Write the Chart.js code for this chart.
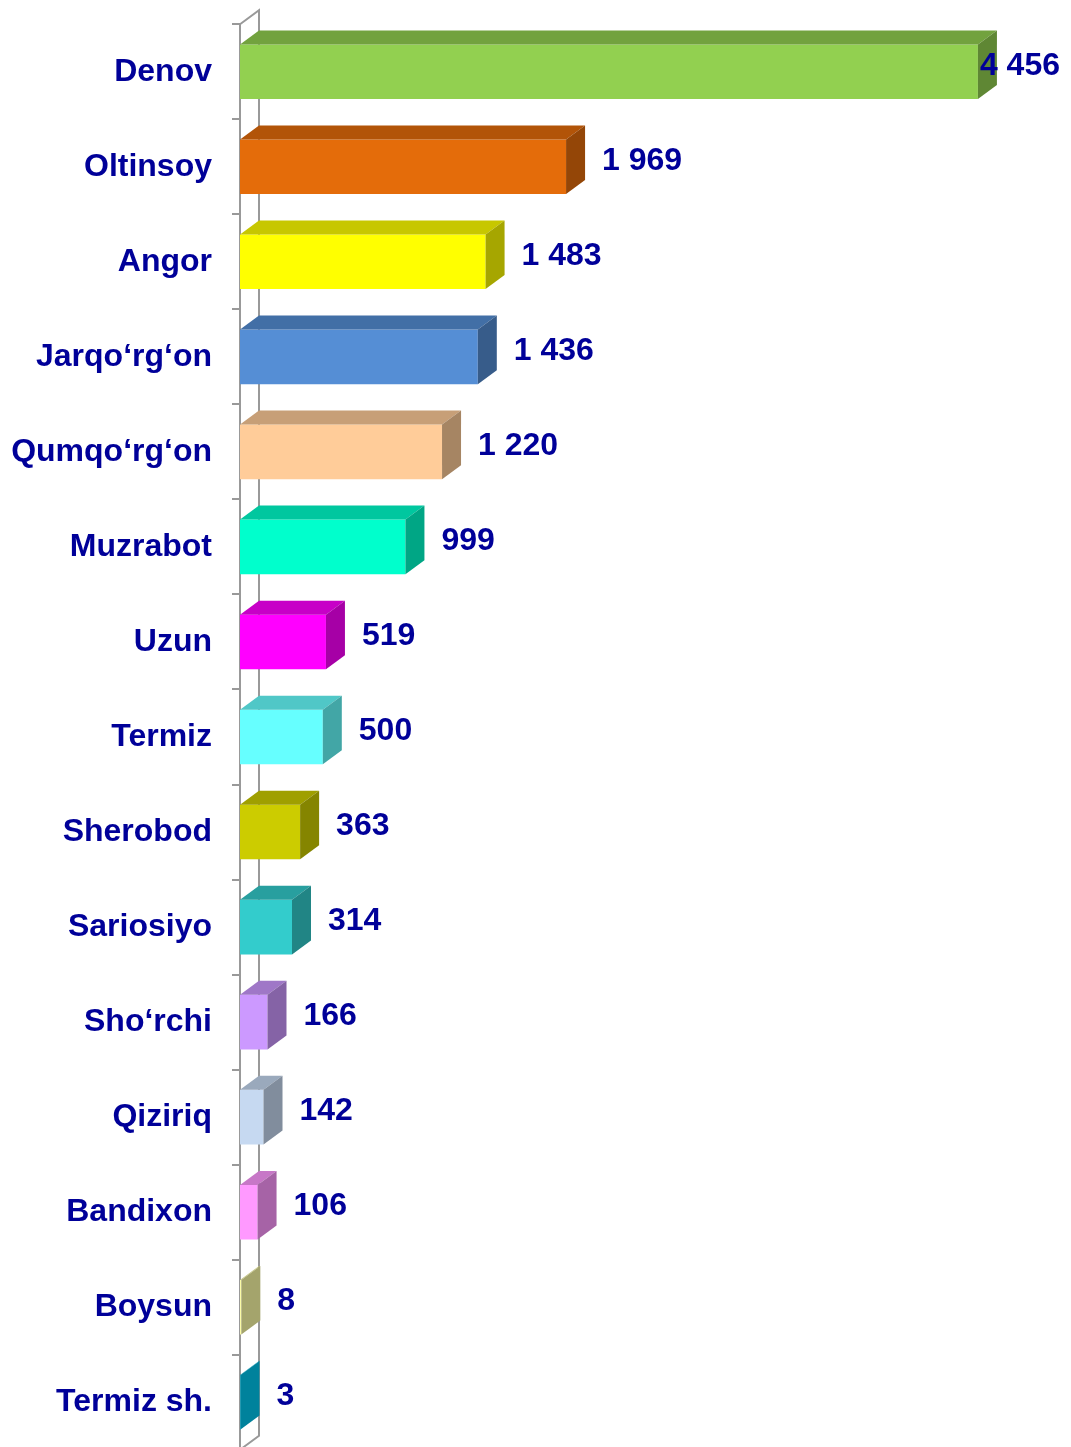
<!DOCTYPE html>
<html>
<head>
<meta charset="utf-8">
<script src="https://cdn.jsdelivr.net/npm/chart.js@4"></script>
<style>
  html, body { margin: 0; padding: 0; background: #fff; overflow: hidden; }
  #barChart { display: block; margin-top: -15px; }
</style>
</head>
<body>
<canvas id="barChart" width="1071" height="1504"></canvas>
<script>
const categories = ['Denov', 'Oltinsoy', 'Angor', 'Jarqo‘rg‘on', 'Qumqo‘rg‘on', 'Muzrabot', 'Uzun',
  'Termiz', 'Sherobod', 'Sariosiyo', 'Sho‘rchi', 'Qiziriq', 'Bandixon', 'Boysun', 'Termiz sh.'];
const values = [4456, 1969, 1483, 1436, 1220, 999, 519, 500, 363, 314, 166, 142, 106, 8, 3];
const barColors = ['#92D050', '#E46C0A', '#FFFF00', '#558ED5', '#FFCC99', '#00FFCC', '#FF00FF',
  '#66FFFF', '#CCCC00', '#33CCCC', '#CC99FF', '#C6D9F1', '#FF99FF', '#FCFCA6', '#00C8F0'];

const textColor = '#000099';
const axisColor = '#999999';
const depthX = 19;
const depthY = 14;

function shade(hex, k) {
  const n = parseInt(hex.slice(1), 16);
  const r = Math.round(((n >> 16) & 255) * k);
  const g = Math.round(((n >> 8) & 255) * k);
  const b = Math.round((n & 255) * k);
  return `rgb(${r}, ${g}, ${b})`;
}

function formatValue(v) {
  return String(v).replace(/\B(?=(\d{3})+(?!\d))/g, ' ');
}

const depthPlugin = {
  id: 'depth',
  beforeDatasetsDraw(chart) {
    const { ctx, chartArea } = chart;
    const l = chartArea.left, t = chartArea.top, b = chartArea.bottom;
    ctx.save();
    ctx.strokeStyle = axisColor;
    ctx.lineWidth = 2;
    ctx.beginPath();
    ctx.moveTo(l, t);
    ctx.lineTo(l + depthX, t - depthY);
    ctx.lineTo(l + depthX, b - depthY);
    ctx.lineTo(l, b);
    ctx.stroke();
    ctx.restore();
  },
  afterDatasetsDraw(chart) {
    const { ctx } = chart;
    const meta = chart.getDatasetMeta(0);
    ctx.save();
    meta.data.forEach((bar, i) => {
      const x0 = bar.base, x1 = bar.x;
      const top = bar.y - bar.height / 2, bottom = bar.y + bar.height / 2;
      // top face
      ctx.fillStyle = shade(barColors[i], 0.78);
      ctx.beginPath();
      ctx.moveTo(x0, top);
      ctx.lineTo(x1, top);
      ctx.lineTo(x1 + depthX, top - depthY);
      ctx.lineTo(x0 + depthX, top - depthY);
      ctx.closePath();
      ctx.fill();
      // side face
      ctx.fillStyle = shade(barColors[i], 0.65);
      ctx.beginPath();
      ctx.moveTo(x1, top);
      ctx.lineTo(x1, bottom);
      ctx.lineTo(x1 + depthX, bottom - depthY);
      ctx.lineTo(x1 + depthX, top - depthY);
      ctx.closePath();
      ctx.fill();
    });
    // value labels
    ctx.font = 'bold 32px "Liberation Sans", Arial, sans-serif';
    ctx.fillStyle = textColor;
    ctx.textAlign = 'left';
    ctx.textBaseline = 'middle';
    meta.data.forEach((bar, i) => {
      const txt = formatValue(values[i]);
      const w = ctx.measureText(txt).width;
      const x = Math.min(bar.x + 36, chart.width - w - 11);
      ctx.fillText(txt, x, bar.y - 6);
    });
    ctx.restore();
  }
};

const ctx = document.getElementById('barChart').getContext('2d');
new Chart(ctx, {
  type: 'bar',
  data: {
    labels: categories,
    datasets: [{
      data: values,
      backgroundColor: barColors,
      borderWidth: 0,
      categoryPercentage: 1,
      barPercentage: 0.575
    }]
  },
  options: {
    indexAxis: 'y',
    responsive: false,
    animation: false,
    devicePixelRatio: 1,
    layout: { padding: { top: 8, bottom: 2, right: 3, left: 0 } },
    plugins: {
      legend: { display: false },
      tooltip: { enabled: false }
    },
    scales: {
      x: { display: false, min: 0, max: 5000 },
      y: {
        offset: true,
        grid: {
          offset: true,
          drawOnChartArea: false,
          drawTicks: true,
          tickLength: 8,
          color: axisColor,
          lineWidth: 2
        },
        border: { display: true, color: axisColor, width: 2 },
        ticks: {
          color: textColor,
          padding: 20,
          font: { family: '"Liberation Sans", Arial, sans-serif', size: 32, weight: 'bold' }
        },
        afterFit(scale) { scale.width = 240; }
      }
    }
  },
  plugins: [depthPlugin]
});
</script>
</body>
</html>
